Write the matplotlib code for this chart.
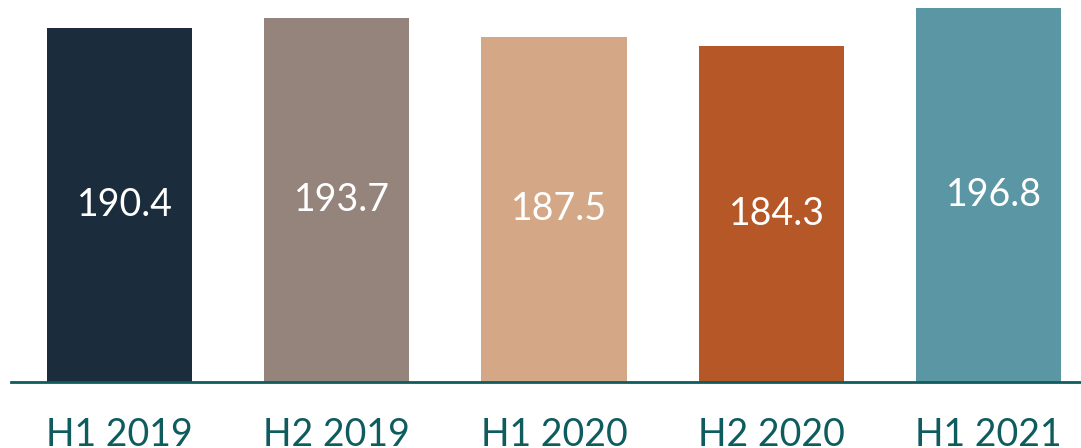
import matplotlib
matplotlib.use('Agg')
import matplotlib.pyplot as plt
import numpy as np

# half-year values
periods = ['H1 2019', 'H2 2019', 'H1 2020', 'H2 2020', 'H1 2021']
values = [190.4, 193.7, 187.5, 184.3, 196.8]
bar_colors = ['#1b2d3c', '#94847b', '#d4a887', '#b55726', '#5b96a4']

teal = '#0e5c5e'

plt.rcParams['font.family'] = ['Lato', 'DejaVu Sans']

fig = plt.figure(figsize=(10.81, 4.48), dpi=100)
ax = fig.add_axes([11/1081, 1 - 382/448, 1070/1081, 382/448])

x = np.arange(len(periods))
bars = ax.bar(x, values, width=0.668, color=bar_colors, zorder=2)

ymin, ymax = 74, 199.5
ax.set_ylim(ymin, ymax)
ax.set_xlim(-0.5, 4.426)

# value labels in the middle of each bar
for xi, v in zip(x, values):
    ax.text(xi + 0.025, (ymin + v) / 2, f'{v:.1f}', ha='center', va='center',
            color='white', fontsize=27)

ax.set_xticks(x)
ax.set_xticklabels(periods, fontsize=27, color=teal)
ax.tick_params(axis='x', length=0, pad=25)
ax.set_yticks([])

for s in ['top', 'right', 'left']:
    ax.spines[s].set_visible(False)
ax.spines['bottom'].set_color(teal)
ax.spines['bottom'].set_linewidth(2)

fig.savefig('out.png', dpi=100)
